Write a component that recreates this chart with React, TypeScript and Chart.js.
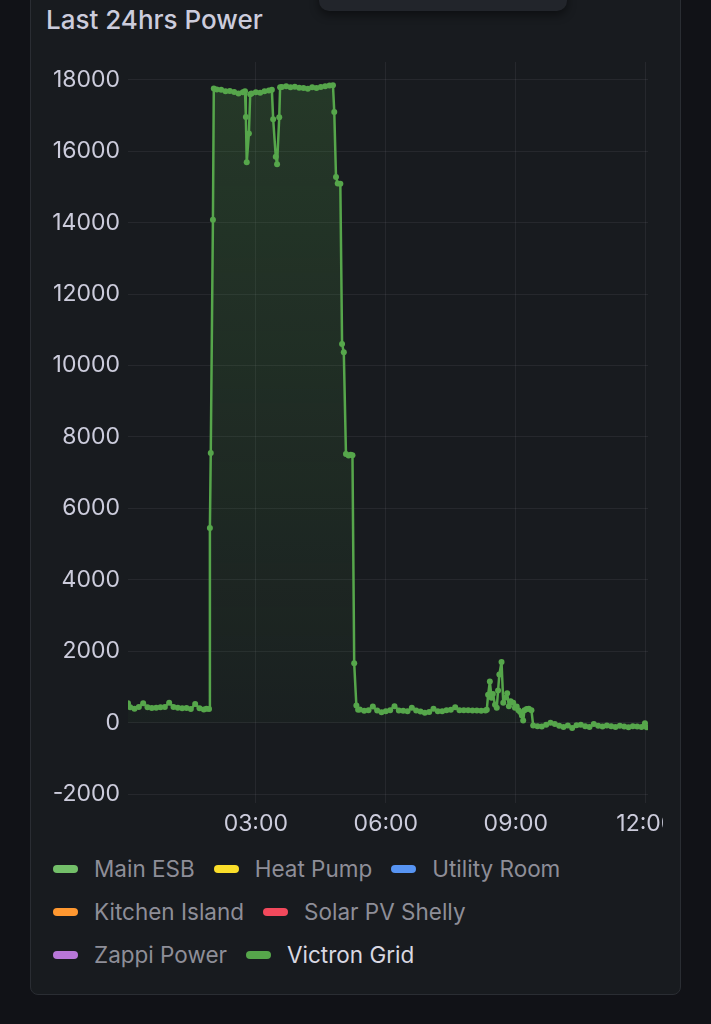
import React, { useEffect, useRef } from "react";
import { Chart, registerables } from "chart.js";

Chart.register(...registerables);

const title = "Last 24hrs Power";

// Time of each sample, in hours since midnight
const sampleHours = [
  0.05, 0.1, 0.2, 0.3, 0.4, 0.5, 0.6, 0.7, 0.8, 0.9, 1.0, 1.1, 1.2, 1.3, 1.4, 1.5, 1.6, 1.7, 1.8, 1.86, 1.92,
  1.94, 1.96, 2.01, 2.03,
  2.1, 2.2, 2.3, 2.4, 2.5, 2.6, 2.7, 2.75,
  2.77, 2.79, 2.84, 2.87,
  2.9, 3.0, 3.1, 3.2, 3.3, 3.37,
  3.4, 3.46, 3.49, 3.54, 3.56,
  3.6, 3.7, 3.8, 3.9, 4.0, 4.1, 4.2, 4.3, 4.4, 4.5, 4.6, 4.7, 4.78,
  4.81, 4.85, 4.89, 4.95, 4.99, 5.03, 5.08, 5.14, 5.19, 5.23, 5.27, 5.32, 5.36,
  5.4, 5.5, 5.6, 5.7, 5.8, 5.9, 6.0, 6.1, 6.2, 6.3, 6.4, 6.5, 6.6, 6.7, 6.8, 6.9, 7.0, 7.1, 7.2, 7.3, 7.4, 7.5, 7.6, 7.7, 7.8, 7.9, 8.0, 8.1, 8.2, 8.3,
  8.33, 8.36, 8.4, 8.44, 8.47, 8.52, 8.56, 8.59, 8.62, 8.67, 8.71, 8.75, 8.8, 8.84, 8.88, 8.94, 8.98, 9.02, 9.06, 9.1, 9.14, 9.17, 9.2, 9.25, 9.3, 9.36, 9.4,
  9.5, 9.6, 9.7, 9.8, 9.9, 10.0, 10.1, 10.2, 10.3, 10.4, 10.5, 10.6, 10.7, 10.8, 10.9, 11.0, 11.1, 11.2, 11.3, 11.4, 11.5, 11.6, 11.7, 11.8, 11.9, 11.98, 12.02,
];

// Victron Grid power (W)
const victronGrid = [
  540, 430, 390, 440, 540, 430, 410, 420, 430, 440, 560, 440, 420, 400, 410, 380, 520, 400, 370, 390, 380,
  5450, 7550, 14080, 17760,
  17730, 17720, 17680, 17690, 17660, 17620, 17650, 17680,
  16960, 15690, 16500, 17600,
  17620, 17650, 17640, 17680, 17700, 17720,
  16900, 15850, 15640, 16950, 17790,
  17800, 17820, 17790, 17810, 17780, 17770, 17750, 17790, 17770, 17800, 17820, 17840, 17850,
  17100, 15280, 15100, 15090, 10600, 10370, 7520, 7480, 7500, 7490, 1660, 480, 360,
  370, 330, 350, 450, 340, 290, 320, 350, 460, 340, 330, 320, 420, 340, 310, 280, 300, 390, 320, 320, 350, 360, 430, 350, 350, 350, 340, 340, 330, 340,
  360, 780, 1150, 700, 800, 500, 420, 900, 1350, 1700, 560, 700, 820, 460, 600, 560, 420, 450, 350, 300, 200, 60, 350, 380, 390, 350, -80,
  -100, -110, -60, 0, -40, -90, -120, -80, -150, -70, -60, -100, -120, -40, -90, -110, -80, -100, -120, -90, -110, -130, -100, -110, -120, -20, -130,
];

const seriesNames = ["Main ESB", "Heat Pump", "Utility Room", "Kitchen Island", "Solar PV Shelly", "Zappi Power", "Victron Grid"];
const seriesColors = ["#73BF69", "#FADE2A", "#5794F2", "#FF9830", "#F2495C", "#B877D9", "#56A64B"];
const visibleSeries = "Victron Grid";

const xTickHours = [3, 6, 9, 12];
const xTickLabels = ["03:00", "06:00", "09:00", "12:00"];
const yTickValues = [-2000, 0, 2000, 4000, 6000, 8000, 10000, 12000, 14000, 16000, 18000];

const FONT = "Inter, 'Noto Sans', sans-serif";
const TEXT = "#ccccdc";
const GRID = "rgba(204,204,220,0.08)";

export default function App() {
  const canvasRef = useRef<HTMLCanvasElement>(null);

  useEffect(() => {
    const canvas = canvasRef.current;
    if (!canvas) return;
    const chart = new Chart(canvas, {
      type: "line",
      data: {
        datasets: seriesNames.map((name, i) => {
          const active = name === visibleSeries;
          return {
            label: name,
            data: active ? sampleHours.map((h, k) => ({ x: h, y: victronGrid[k] })) : [],
            hidden: !active,
            borderColor: seriesColors[i],
            pointBackgroundColor: seriesColors[i],
            pointBorderColor: seriesColors[i],
            pointRadius: 3,
            pointBorderWidth: 0,
            borderWidth: 2.5,
            borderJoinStyle: "round",
            borderCapStyle: "round",
            tension: 0,
            fill: "origin",
            backgroundColor: (ctx: any) => {
              const area = ctx.chart.chartArea;
              if (!area) return "rgba(86,166,75,0.1)";
              const g = ctx.chart.ctx.createLinearGradient(0, area.top, 0, area.bottom);
              g.addColorStop(0, "rgba(86,166,75,0.22)");
              g.addColorStop(1, "rgba(86,166,75,0.02)");
              return g;
            },
          };
        }),
      },
      options: {
        responsive: false,
        animation: false,
        layout: { padding: { left: 0, right: 15, top: 12, bottom: 0 } },
        plugins: {
          legend: { display: false },
          tooltip: { enabled: false },
          title: { display: false },
        },
        scales: {
          x: {
            type: "linear",
            min: 0.05,
            max: 12.05,
            afterBuildTicks: (s: any) => {
              s.ticks = xTickHours.map((v) => ({ value: v }));
            },
            afterFit: (s: any) => {
              s.height = 40;
              s.paddingLeft = 0;
              s.paddingRight = 0;
            },
            ticks: {
              autoSkip: false,
              maxRotation: 0,
              padding: 7,
              color: TEXT,
              font: { family: FONT, size: 23 },
              callback: (v: any) => {
                const i = xTickHours.indexOf(Number(v));
                return i >= 0 ? xTickLabels[i] : "";
              },
            },
            grid: { color: GRID, drawTicks: false },
            border: { display: false },
          },
          y: {
            type: "linear",
            min: -2250,
            max: 18500,
            afterBuildTicks: (s: any) => {
              s.ticks = yTickValues.map((v) => ({ value: v }));
            },
            afterFit: (s: any) => {
              s.width = 98;
              s.paddingTop = 0;
              s.paddingBottom = 0;
            },
            ticks: {
              autoSkip: false,
              padding: 8,
              color: TEXT,
              font: { family: FONT, size: 23 },
              callback: (v: any) => String(v),
            },
            grid: { color: GRID, drawTicks: false },
            border: { display: false },
          },
        },
      },
    } as any);
    return () => chart.destroy();
  }, []);

  return (
    <div style={{ position: "fixed", inset: 0, background: "#111217", overflow: "hidden", fontFamily: FONT }}>
      <div
        style={{
          position: "absolute",
          left: 30,
          top: -20,
          width: 651,
          height: 1015,
          background: "#181b1f",
          border: "1px solid #2a2d33",
          borderRadius: 8,
          boxSizing: "border-box",
        }}
      />
      <div
        style={{
          position: "absolute",
          left: 319,
          top: -20,
          width: 248,
          height: 31,
          background: "#22252b",
          borderRadius: 10,
          boxShadow: "0 4px 10px rgba(0,0,0,0.45)",
        }}
      />
      <div
        style={{
          position: "absolute",
          left: 46,
          top: 5,
          fontSize: 26,
          lineHeight: "30px",
          fontWeight: 500,
          color: TEXT,
          whiteSpace: "nowrap",
        }}
      >
        {title}
      </div>
      <canvas
        ref={canvasRef}
        width={633}
        height={793}
        style={{ position: "absolute", left: 30, top: 50, width: 633, height: 793 }}
      />
      <div
        style={{
          position: "absolute",
          left: 53,
          top: 847,
          width: 590,
          display: "flex",
          flexWrap: "wrap",
        }}
      >
        {seriesNames.map((name, i) => (
          <div key={name} style={{ display: "flex", alignItems: "center", height: 43, marginRight: 19 }}>
            <div style={{ width: 25, height: 8, borderRadius: 4, background: seriesColors[i], marginRight: 16 }} />
            <span
              style={{
                fontSize: 22.5,
                color: name === visibleSeries ? "#d8d8e2" : "#8e8e98",
                whiteSpace: "nowrap",
              }}
            >
              {name}
            </span>
          </div>
        ))}
      </div>
    </div>
  );
}
